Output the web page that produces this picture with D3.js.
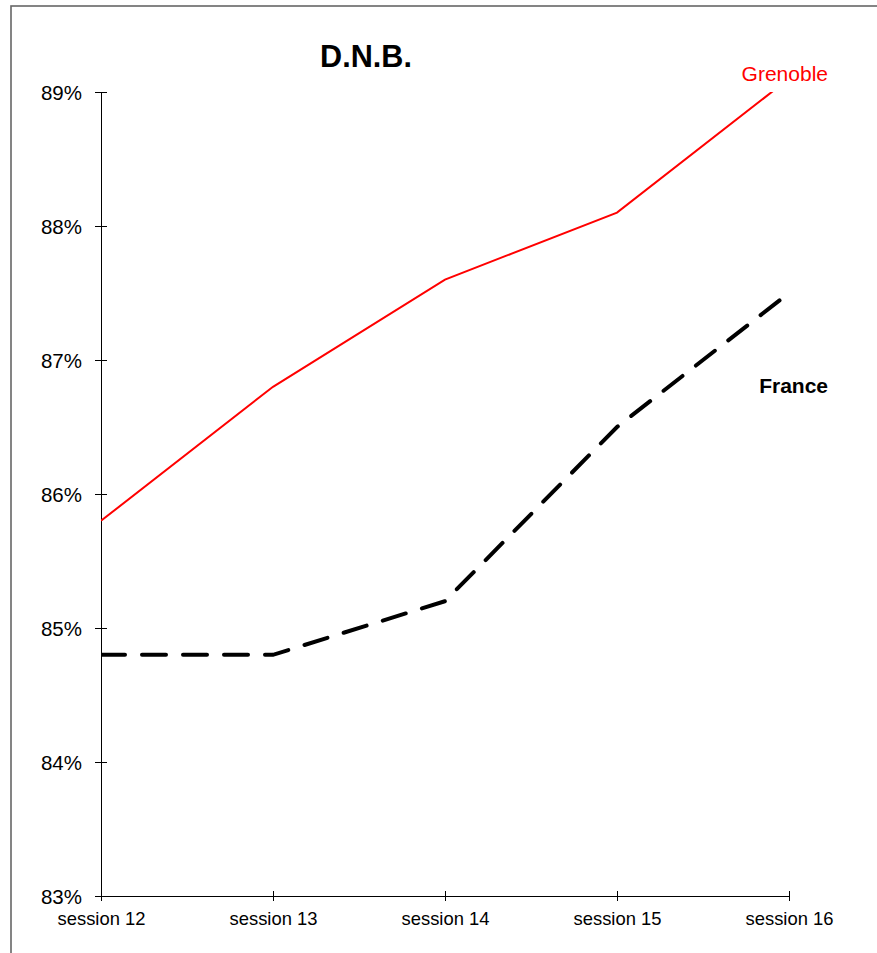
<!DOCTYPE html>
<html>
<head>
<meta charset="utf-8">
<script src="https://cdn.jsdelivr.net/npm/d3@7/dist/d3.min.js"></script>
<style>
html,body{margin:0;padding:0;background:#fff;}
svg{display:block;}
text{font-family:"Liberation Sans",Arial,sans-serif;}
</style>
</head>
<body>
<svg id="chart" width="877" height="953"></svg>
<script>
const categories = ["session 12","session 13","session 14","session 15","session 16"];
const grenoble = [85.8, 86.8, 87.6, 88.1, 89.1];
const france = [84.8, 84.8, 85.2, 86.5, 87.5];
const yTicks = [83, 84, 85, 86, 87, 88, 89];
const title = "D.N.B.";
const seriesNames = ["Grenoble", "France"];

(function () {
const svg = d3.select("#chart");
const mLeft = 101, mRight = 789, mTop = 92, mBottom = 896;

// outer frame
svg.append("rect").attr("x", 11).attr("y", 6).attr("width", 900).attr("height", 1000)
  .attr("fill", "none").attr("stroke", "#666").attr("stroke-width", 1.6);

const x = d3.scalePoint().domain(categories).range([mLeft, mRight]);
const y = d3.scaleLinear().domain([83, 89]).range([mBottom, mTop]);

svg.append("defs").append("clipPath").attr("id", "plotclip")
  .append("rect").attr("x", mLeft).attr("y", mTop).attr("width", mRight - mLeft + 20).attr("height", mBottom - mTop);

// y axis
const yAxis = svg.append("g").attr("transform", `translate(${mLeft},0)`)
  .call(d3.axisLeft(y).tickValues(yTicks).tickFormat(d => d + "%").tickSize(6).tickSizeOuter(0));
yAxis.select(".domain").attr("stroke", "#000").attr("stroke-width", 1);
yAxis.selectAll(".tick line").attr("x1", -6).attr("x2", 6).attr("stroke", "#000");
yAxis.selectAll(".tick text").attr("x", -19).attr("dy", "0.35em")
  .attr("font-size", 20.5).attr("fill", "#000").attr("font-family", "Liberation Sans, Arial, sans-serif");

// x axis
const xAxis = svg.append("g").attr("transform", `translate(0,${mBottom})`)
  .call(d3.axisBottom(x).tickSize(5).tickSizeOuter(0));
xAxis.select(".domain").attr("stroke", "#000").attr("stroke-width", 1);
xAxis.selectAll(".tick line").attr("y1", -5).attr("y2", 5).attr("stroke", "#000");
xAxis.selectAll(".tick text").attr("y", 29).attr("dy", 0)
  .attr("font-size", 18.4).attr("fill", "#000").attr("font-family", "Liberation Sans, Arial, sans-serif");

const line = d3.line().x((d, i) => x(categories[i])).y(d => y(d));

const g = svg.append("g").attr("clip-path", "url(#plotclip)");
g.append("path").datum(grenoble).attr("d", line)
  .attr("fill", "none").attr("stroke", "#ff0000").attr("stroke-width", 2);
g.append("path").datum(france).attr("d", line)
  .attr("fill", "none").attr("stroke", "#000").attr("stroke-width", 4)
  .attr("stroke-dasharray", "24,17").attr("stroke-linecap", "round");

// title
svg.append("text").attr("x", 366).attr("y", 67).attr("text-anchor", "middle")
  .attr("font-size", 30.6).attr("font-weight", "bold").attr("fill", "#000").text(title);

// series labels
svg.append("text").attr("x", 828).attr("y", 81).attr("text-anchor", "end")
  .attr("font-size", 21).attr("fill", "#ff0000").text(seriesNames[0]);
svg.append("text").attr("x", 828).attr("y", 393).attr("text-anchor", "end")
  .attr("font-size", 21).attr("font-weight", "bold").attr("fill", "#000").text(seriesNames[1]);
})();
</script>
</body>
</html>
